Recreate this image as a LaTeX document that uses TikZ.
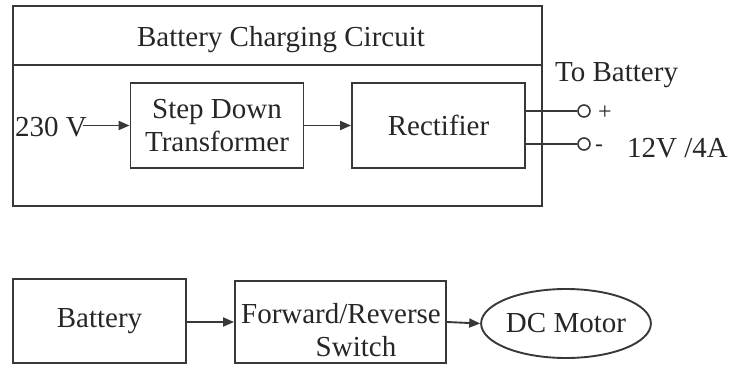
\documentclass[tikz,border=0pt]{standalone}
\usepackage{fontspec}
\setmainfont{Liberation Serif}
\usetikzlibrary{arrows.meta,shapes.geometric}
\begin{document}
\begin{tikzpicture}[x=1pt,y=-1pt,
  ln/.style={line width=1.9pt, draw=black!78},
  big/.style={font=\fontsize{29}{33}\selectfont, text=black!85},
  blk/.style={ln, rectangle, inner sep=0pt, align=center, big},
  txt/.style={inner sep=0pt, big},
  small/.style={inner sep=0pt, font=\fontsize{24}{26}\selectfont, text=black!85},
  arr/.style={ln, -{Triangle[length=11pt,width=9pt]}},
  term/.style={circle, ln, line width=1.6pt, minimum size=12pt, inner sep=0pt}]
\useasboundingbox (0,0) rectangle (730,366);
% charging circuit
\node[blk, minimum width=529pt, minimum height=200pt] (outer) at (277.5,106) {};
\draw[ln] (13,65) -- (542,65);
\node[txt, anchor=base] (title) at (281,47) {Battery Charging Circuit};
\node[blk, minimum width=173pt, minimum height=85pt] (sd) at (217,125.5) {Step Down\\Transformer};
\node[blk, minimum width=173pt, minimum height=85pt] (rect) at (438.5,125.5) {Rectifier};
\node[txt, anchor=base west] (vin) at (15,137) {230 V};
\draw[arr] ([xshift=-4pt]vin.east |- sd.west) -- (sd.west);
\draw[arr] (sd.east) -- (rect.west);
\node[term] (tp) at (584,111) {};
\node[term] (tm) at (584,144) {};
\draw[ln] (rect.east |- tp) -- (tp.west);
\draw[ln] (rect.east |- tm) -- (tm.west);
\node[small] (plus) at (605,113) {+};
\node[small] (minus) at (599,148) {-};
\node[txt, anchor=base west] (tobat) at (555,82) {To Battery};
\node[txt, anchor=base west] (rating) at (627,158) {12V /4A};
% motor drive
\node[blk, minimum width=173pt, minimum height=84pt] (bat) at (99.5,321) {Battery};
\node[blk, minimum width=211pt, minimum height=82pt] (fr) at (340.5,322) {};
\node[txt, align=center] (frt) at (341,330) {Forward/Reverse\\\hspace*{30pt}Switch};
\node[ellipse, ln, inner sep=0pt, minimum width=146pt, minimum height=69pt, big] (dc) at (566,323.5) {DC Motor};
\draw[arr] (bat.east |- 0,322) -- (fr.west |- 0,322);
\draw[arr] (fr.east |- 0,322) -- (dc.west);
\end{tikzpicture}
\end{document}
